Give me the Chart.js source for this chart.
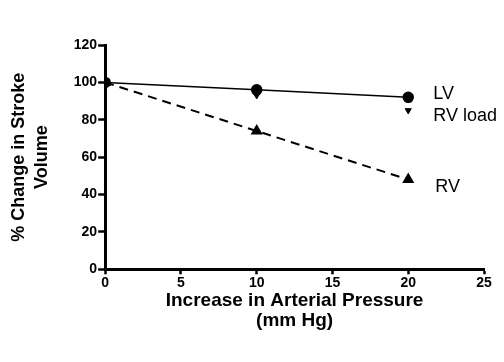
<!DOCTYPE html>
<html>
<head>
<meta charset="utf-8">
<script src="https://cdn.jsdelivr.net/npm/chart.js@4.4.1/dist/chart.umd.min.js"></script>
<style>
  html, body { margin: 0; padding: 0; background: #fff; }
  #wrap { width: 504px; height: 362px; }
</style>
</head>
<body>
<div id="wrap"><canvas id="svChart" width="504" height="362"></canvas></div>
<script>
// values
const pressure = [0, 10, 20];
const lvValues = [100, 96, 92];
const rvLoadValues = [100, 93, 85];
const rvValues = [100, 74, 48];
const seriesNames = ["LV", "RV load", "RV"];
const xTickValues = [0, 5, 10, 15, 20, 25];
const yTickValues = [0, 20, 40, 60, 80, 100, 120];

const pts = (vals) => pressure.map((p, i) => ({ x: p, y: vals[i] }));

// writes the series name to the right of its last point
const endLabels = {
  id: "endLabels",
  afterDatasetsDraw(chart) {
    const ctx = chart.ctx;
    ctx.save();
    ctx.font = "18px 'Liberation Sans', Arial, sans-serif";
    ctx.fillStyle = "#000";
    ctx.textBaseline = "middle";
    chart.data.datasets.forEach((ds, i) => {
      const meta = chart.getDatasetMeta(i);
      const last = meta.data[meta.data.length - 1];
      ctx.fillText(ds.label, last.x + ds.tagDx, last.y + ds.tagDy);
    });
    ctx.restore();
  },
};

const ctx = document.getElementById("svChart").getContext("2d");
const svChart = new Chart(ctx, {
  type: "line",
  data: {
    datasets: [
      {
        label: seriesNames[0],
        data: pts(lvValues),
        borderColor: "#000",
        backgroundColor: "#000",
        borderWidth: 1.5,
        pointStyle: "circle",
        pointRadius: 5,
        tagDx: 25,
        tagDy: -3,
      },
      {
        label: seriesNames[1],
        data: pts(rvLoadValues),
        showLine: false,
        borderColor: "#000",
        backgroundColor: "#000",
        pointStyle: "triangle",
        rotation: 180,
        pointRadius: 3.5,
        tagDx: 25,
        tagDy: 6,
      },
      {
        label: seriesNames[2],
        data: pts(rvValues),
        borderColor: "#000",
        backgroundColor: "#000",
        borderWidth: 2,
        borderDash: [9, 6],
        pointStyle: "triangle",
        pointRadius: 5,
        tagDx: 27,
        tagDy: 7,
      },
    ],
  },
  options: {
    responsive: false,
    animation: false,
    layout: { padding: { top: 45, right: 20, bottom: 31, left: 7 } },
    plugins: {
      legend: { display: false },
      tooltip: { enabled: false },
    },
    scales: {
      x: {
        type: "linear",
        min: 0,
        max: 25,
        afterBuildTicks: (axis) => {
          axis.ticks = xTickValues.map((v) => ({ value: v }));
        },
        grid: {
          drawOnChartArea: false,
          tickLength: 5,
          tickColor: "#000",
          tickWidth: 2.5,
        },
        border: { color: "#000", width: 3 },
        ticks: {
          color: "#000",
          padding: 0,
          maxRotation: 0,
          font: { family: "'Liberation Sans', Arial, sans-serif", size: 14, weight: "bold" },
        },
        title: {
          display: true,
          text: ["Increase in Arterial Pressure", "(mm Hg)"],
          color: "#000",
          padding: { top: 0, bottom: 0 },
          font: { family: "'Liberation Sans', Arial, sans-serif", size: 19, weight: "bold", lineHeight: 1.05 },
        },
      },
      y: {
        min: 0,
        max: 120,
        afterBuildTicks: (axis) => {
          axis.ticks = yTickValues.map((v) => ({ value: v }));
        },
        grid: {
          drawOnChartArea: false,
          tickLength: 7,
          tickColor: "#000",
          tickWidth: 2.5,
        },
        border: { color: "#000", width: 3 },
        ticks: {
          color: "#000",
          padding: 1,
          font: { family: "'Liberation Sans', Arial, sans-serif", size: 14, weight: "bold" },
        },
        title: {
          display: true,
          text: ["% Change in Stroke", "Volume"],
          color: "#000",
          padding: { top: 0, bottom: 19 },
          font: { family: "'Liberation Sans', Arial, sans-serif", size: 18, weight: "bold", lineHeight: 1.3 },
        },
      },
    },
  },
  plugins: [endLabels],
});
</script>
</body>
</html>
